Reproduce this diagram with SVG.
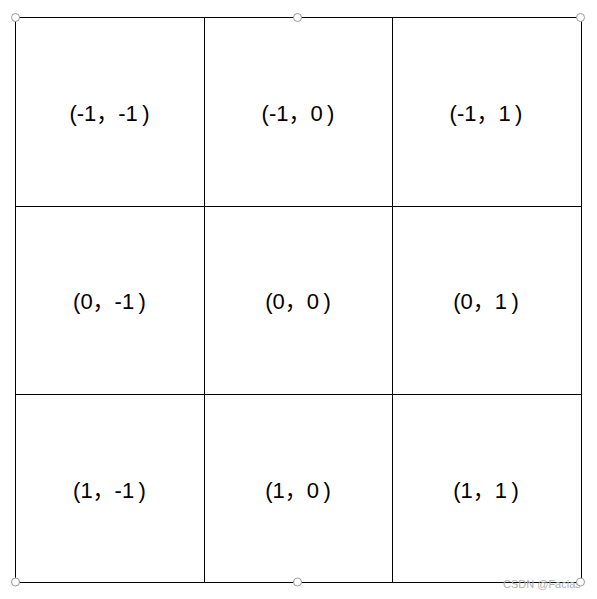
<svg xmlns="http://www.w3.org/2000/svg" width="597" height="599" viewBox="0 0 597 599">
<style>
.cell{fill:#fff;stroke:#000;stroke-width:1}
.t{font-family:"Liberation Sans","Noto Sans CJK SC",sans-serif;font-size:22px;fill:#000;text-anchor:middle;white-space:pre}
.h{fill:#fff;stroke:#999;stroke-width:1}
.wm{font-family:"Liberation Sans",sans-serif;font-size:11px;fill:#b0b0b0}
</style>
<rect width="597" height="599" fill="#fff"/>
<g id="c00"><rect class="cell" x="15.5" y="17.5" width="189" height="189"/><text class="t" x="109.5" y="121" xml:space="preserve">(-1，-1&#8201;)</text></g>
<g id="c01"><rect class="cell" x="204.5" y="17.5" width="188" height="189"/><text class="t" x="298" y="121" xml:space="preserve">(-1，0&#8201;)</text></g>
<g id="c02"><rect class="cell" x="392.5" y="17.5" width="189" height="189"/><text class="t" x="486" y="121" xml:space="preserve">(-1，1&#8201;)</text></g>
<g id="c10"><rect class="cell" x="15.5" y="206.5" width="189" height="188"/><text class="t" x="109.5" y="309" xml:space="preserve">(0，-1&#8201;)</text></g>
<g id="c11"><rect class="cell" x="204.5" y="206.5" width="188" height="188"/><text class="t" x="298" y="309" xml:space="preserve">(0，0&#8201;)</text></g>
<g id="c12"><rect class="cell" x="392.5" y="206.5" width="189" height="188"/><text class="t" x="486" y="309" xml:space="preserve">(0，1&#8201;)</text></g>
<g id="c20"><rect class="cell" x="15.5" y="394.5" width="189" height="188"/><text class="t" x="109.5" y="498" xml:space="preserve">(1，-1&#8201;)</text></g>
<g id="c21"><rect class="cell" x="204.5" y="394.5" width="188" height="188"/><text class="t" x="298" y="498" xml:space="preserve">(1，0&#8201;)</text></g>
<g id="c22"><rect class="cell" x="392.5" y="394.5" width="189" height="188"/><text class="t" x="486" y="498" xml:space="preserve">(1，1&#8201;)</text></g>
<text class="wm" x="503" y="588">CSDN @Facias</text>
<g id="handles">
<circle class="h" cx="15.5" cy="17.5" r="4"/>
<circle class="h" cx="297.5" cy="17.5" r="4"/>
<circle class="h" cx="580.5" cy="17.5" r="4"/>
<circle class="h" cx="15.5" cy="582" r="4"/>
<circle class="h" cx="297.5" cy="582" r="4"/>
<circle class="h" cx="580.5" cy="582" r="4"/>
</g>
</svg>
